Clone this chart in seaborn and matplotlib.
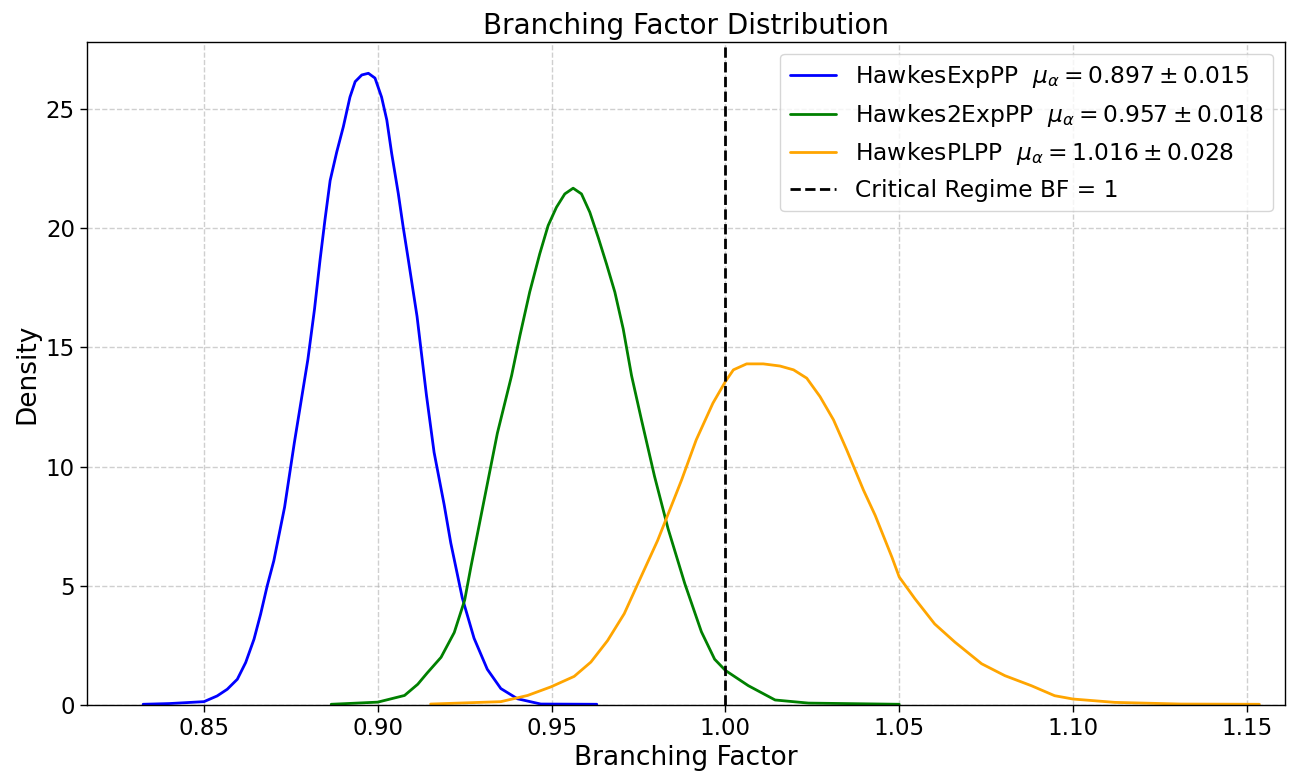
import matplotlib
matplotlib.use("Agg")
import matplotlib.pyplot as plt
import seaborn as sns

# Kernel density curves of the posterior branching factor for each model
exp_bf = [0.8325, 0.840, 0.850, 0.8538, 0.8567, 0.8596, 0.862, 0.8644, 0.8663, 0.8682,
          0.8701, 0.8732, 0.876, 0.8799, 0.8818, 0.8834, 0.8848, 0.8863, 0.8882, 0.8901,
          0.892, 0.8935, 0.8954, 0.8973, 0.8992, 0.9011, 0.9026, 0.904, 0.9059, 0.9073,
          0.9088, 0.9113, 0.914, 0.9162, 0.9191, 0.921, 0.9243, 0.9277, 0.9315, 0.9354,
          0.9402, 0.9469, 0.963]
exp_density = [0.03, 0.06, 0.14, 0.38, 0.66, 1.08, 1.78, 2.76, 3.81, 5.0,
               6.05, 8.3, 11.0, 14.5, 16.6, 18.67, 20.34, 22.0, 23.2, 24.26,
               25.5, 26.15, 26.43, 26.5, 26.3, 25.5, 24.54, 23.14, 21.46, 20.06,
               18.67, 16.3, 13.0, 10.6, 8.4, 6.8, 4.5, 2.8, 1.5, 0.69,
               0.26, 0.04, 0.03]

exp2_bf = [0.8866, 0.900, 0.9077, 0.9115, 0.9142, 0.9182, 0.922, 0.925, 0.9268, 0.9306,
           0.9344, 0.9385, 0.9409, 0.9437, 0.9466, 0.949, 0.9514, 0.9538, 0.9562, 0.9586,
           0.961, 0.9634, 0.9658, 0.9682, 0.9706, 0.973, 0.9758, 0.9796, 0.9835, 0.9883,
           0.9931, 0.9969, 1.000, 1.0066, 1.0143, 1.0239, 1.050]
exp2_density = [0.03, 0.12, 0.4, 0.87, 1.34, 2.0, 3.04, 4.4, 5.8, 8.6,
                11.4, 13.82, 15.5, 17.32, 18.93, 20.11, 20.88, 21.44, 21.68, 21.44,
                20.67, 19.62, 18.5, 17.32, 15.78, 13.82, 12.0, 9.6, 7.4, 5.1,
                3.07, 1.92, 1.45, 0.81, 0.21, 0.08, 0.03]

pl_bf = [0.9152, 0.9354, 0.9431, 0.9498, 0.9565, 0.9613, 0.9661, 0.9709, 0.9757, 0.9805,
         0.9854, 0.9874, 0.9916, 0.9964, 1.000, 1.0023, 1.0061, 1.0109, 1.0157, 1.0196,
         1.0234, 1.0272, 1.0311, 1.0349, 1.0397, 1.0431, 1.0479, 1.050, 1.0545, 1.0602,
         1.066, 1.0737, 1.0804, 1.088, 1.0947, 1.100, 1.112, 1.1311, 1.1536]
pl_density = [0.04, 0.14, 0.4, 0.76, 1.2, 1.8, 2.7, 3.83, 5.37, 6.9,
              8.7, 9.44, 11.12, 12.66, 13.57, 14.06, 14.31, 14.31, 14.22, 14.06,
              13.71, 12.94, 11.96, 10.7, 9.02, 7.95, 6.2, 5.37, 4.46, 3.4,
              2.64, 1.73, 1.23, 0.81, 0.39, 0.25, 0.11, 0.04, 0.03]

model_names = ["HawkesExpPP", "Hawkes2ExpPP", "HawkesPLPP"]
bf_means = [0.897, 0.957, 1.016]
bf_stds = [0.015, 0.018, 0.028]
model_colors = ["blue", "green", "orange"]
critical_bf = 1.0

sns.set_style("ticks")
plt.rcParams["font.family"] = ["DejaVu Sans"]
plt.rcParams.update({
    "text.color": "black",
    "axes.labelcolor": "black",
    "xtick.color": "black",
    "ytick.color": "black",
    "axes.edgecolor": "black",
})

fig, ax = plt.subplots(figsize=(13.15, 7.79), dpi=100)
fig.subplots_adjust(left=0.066, right=0.977, top=0.946, bottom=0.095)

curves = [(exp_bf, exp_density), (exp2_bf, exp2_density), (pl_bf, pl_density)]
for (xs, ys), name, mu, sd, col in zip(curves, model_names, bf_means, bf_stds, model_colors):
    label = f"{name}  $\\mu_\\alpha = {mu:.3f} \\pm {sd:.3f}$"
    sns.lineplot(x=xs, y=ys, ax=ax, color=col, linewidth=2, label=label,
                 estimator=None, sort=True)

ax.axvline(critical_bf, color="black", linestyle="--", linewidth=2,
           label="Critical Regime BF = 1")

ax.set_xlim(0.8163, 1.1609)
ax.set_ylim(0, 27.81)
ax.set_xticks([0.85, 0.90, 0.95, 1.00, 1.05, 1.10, 1.15])
ax.set_yticks([0, 5, 10, 15, 20, 25])
ax.grid(True, linestyle="--", color="#b0b0b0", alpha=0.6, linewidth=1)
for s in ax.spines.values():
    s.set_color("black")
    s.set_linewidth(1)
ax.tick_params(labelsize=16.5, length=5, width=1, color="black")

ax.set_title("Branching Factor Distribution", fontsize=20)
ax.set_xlabel("Branching Factor", fontsize=19)
ax.set_ylabel("Density", fontsize=19)
ax.legend(loc="upper right", fontsize=16.8, frameon=True)

fig.savefig("out.png", dpi=100)
